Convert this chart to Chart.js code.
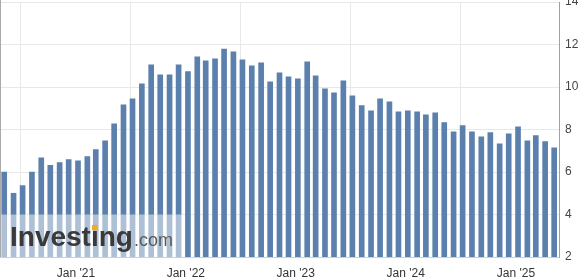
<!DOCTYPE html>
<html><head><meta charset="utf-8">
<script src="https://cdn.jsdelivr.net/npm/chart.js@4/dist/chart.umd.min.js"></script>
<style>html,body{margin:0;padding:0;background:#fff;overflow:hidden}canvas{display:block}</style>
</head><body>
<canvas id="c" width="582" height="277"></canvas>
<script>
// Data month of each report (released about two months later)
const dataMonths = [
  '2020-03','2020-04','2020-05','2020-06','2020-07','2020-08','2020-09','2020-10','2020-11','2020-12',
  '2021-01','2021-02','2021-03','2021-04','2021-05','2021-06','2021-07','2021-08','2021-09','2021-10','2021-11','2021-12',
  '2022-01','2022-02','2022-03','2022-04','2022-05','2022-06','2022-07','2022-08','2022-09','2022-10','2022-11','2022-12',
  '2023-01','2023-02','2023-03','2023-04','2023-05','2023-06','2023-07','2023-08','2023-09','2023-10','2023-11','2023-12',
  '2024-01','2024-02','2024-03','2024-04','2024-05','2024-06','2024-07','2024-08','2024-09','2024-10','2024-11','2024-12',
  '2025-01','2025-02','2025-03'
];
// Job openings (millions)
const openings = [
  6.00, 5.00, 5.36, 6.00, 6.67, 6.31, 6.44, 6.58, 6.53, 6.72,
  7.05, 7.47, 8.27, 9.16, 9.44, 10.15, 11.04, 10.57, 10.57, 11.04, 10.73, 11.42,
  11.23, 11.32, 11.79, 11.65, 11.28, 11.00, 11.14, 10.24, 10.67, 10.48, 10.38, 11.18,
  10.53, 9.91, 9.73, 10.29, 9.59, 9.12, 8.88, 9.44, 9.30, 8.83, 8.88, 8.83,
  8.69, 8.79, 8.32, 7.89, 8.18, 7.89, 7.66, 7.85, 7.33, 7.80, 8.13, 7.47,
  7.71, 7.43, 7.14
];
const tickYears = [2021, 2022, 2023, 2024, 2025];
const yMin = 2, yMax = 14, yStep = 2;
const releaseLagMonths = 2;
const releaseDay = 8;

const DAY = 86400000;
const toDay = (y, m, d) => Date.UTC(y, m, d) / DAY;
const points = dataMonths.map((s, i) => {
  const [y, m] = s.split('-').map(Number);
  return { x: toDay(y, m - 1 + releaseLagMonths, releaseDay), y: openings[i] };
});

const font = '"Liberation Sans", Arial, sans-serif';

const decor = {
  id: 'decor',
  afterDatasetsDraw(chart) {
    const { ctx, chartArea: a } = chart;
    ctx.save();
    // left frame line
    ctx.strokeStyle = '#aaaaaa';
    ctx.lineWidth = 1;
    ctx.beginPath();
    ctx.moveTo(0.5, 0);
    ctx.lineTo(0.5, a.bottom);
    ctx.stroke();
    // watermark panel
    const top = 214.5;
    ctx.fillStyle = 'rgba(255,255,255,0.5)';
    ctx.fillRect(a.left + 1, top, 182 - a.left - 1, a.bottom - top);
    ctx.font = 'bold 28px ' + font;
    ctx.textBaseline = 'alphabetic';
    ctx.fillStyle = '#3a3a3a';
    const x0 = 10, base = 245.5;
    ctx.fillText('Investing', x0, base);
    const w = ctx.measureText('Investing').width;
    const wi = ctx.measureText('Invest').width;
    const iw = ctx.measureText('i').width;
    ctx.fillStyle = '#f4a91f';
    ctx.fillRect(x0 + wi + iw / 2 - 2.8, base - 20.5, 5.6, 5.2);
    ctx.font = '18px ' + font;
    ctx.fillStyle = '#5a5a5a';
    ctx.fillText('.com', x0 + w + 1, base);
    ctx.restore();
  }
};

new Chart(document.getElementById('c'), {
  type: 'bar',
  data: {
    datasets: [{
      data: points,
      backgroundColor: '#5b80ad',
      borderWidth: 0,
      barThickness: 5
    }]
  },
  options: {
    responsive: false,
    animation: false,
    devicePixelRatio: 1,
    layout: { padding: { top: 2, left: 0, right: 0, bottom: 0 } },
    plugins: { legend: { display: false }, tooltip: { enabled: false } },
    scales: {
      x: {
        type: 'linear',
        offset: false,
        min: toDay(2020, 3, 24),
        max: toDay(2025, 4, 24),
        afterBuildTicks(scale) {
          scale.ticks = tickYears.map(y => ({ value: toDay(y, 0, 1) }));
        },
        afterFit(scale) { scale.height = 20; scale.paddingLeft = 0; scale.paddingRight = 0; },
        grid: { color: '#e8e8e8', drawTicks: false },
        border: { color: '#c8d2de' },
        ticks: {
          autoSkip: false, maxRotation: 0, padding: 9,
          color: '#333', font: { family: font, size: 12 },
          callback(v) {
            const d = new Date(v * DAY);
            return "Jan '" + String(d.getUTCFullYear()).slice(2);
          }
        }
      },
      y: {
        position: 'right',
        min: yMin, max: yMax,
        afterFit(scale) { scale.width = 23; scale.paddingTop = 0; scale.paddingBottom = 0; },
        grid: { color: '#e8e8e8', drawTicks: false },
        border: { color: '#a0a0a0' },
        ticks: {
          stepSize: yStep, padding: 6,
          color: '#444', font: { family: font, size: 12 }
        }
      }
    }
  },
  plugins: [decor]
});
</script>
</body></html>
